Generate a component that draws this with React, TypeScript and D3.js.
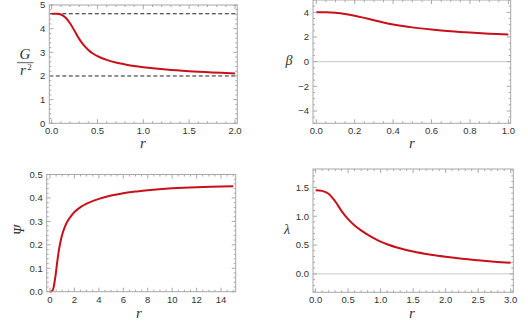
import * as d3 from "d3";

// G/r^2 vs r
const G_R = [0, 0.05, 0.1, 0.15, 0.2, 0.25, 0.3, 0.35, 0.4, 0.45, 0.5, 0.55, 0.6, 0.7, 0.8, 0.9, 1.0, 1.25, 1.5, 1.75, 2.0];
const G_V = [4.63, 4.63, 4.6, 4.47, 4.23, 3.9, 3.57, 3.3, 3.1, 2.95, 2.84, 2.75, 2.68, 2.57, 2.49, 2.42, 2.37, 2.27, 2.2, 2.15, 2.11];
const G_REF = [4.63, 2];

// beta vs r
const B_R = [0, 0.05, 0.1, 0.15, 0.2, 0.25, 0.3, 0.35, 0.4, 0.45, 0.5, 0.6, 0.7, 0.8, 0.9, 1.0];
const B_V = [4.0, 4.0, 3.96, 3.87, 3.73, 3.55, 3.36, 3.18, 3.02, 2.89, 2.78, 2.61, 2.47, 2.36, 2.27, 2.2];

// Psi vs r
const P_R = [0, 0.2, 0.4, 0.6, 0.7, 0.8, 0.9, 1.0, 1.2, 1.4, 1.7, 2, 2.5, 3, 4, 5, 6, 7, 8, 10, 12, 15];
const P_V = [0, 0.005, 0.05, 0.13, 0.168, 0.198, 0.223, 0.244, 0.274, 0.297, 0.321, 0.34, 0.361, 0.376, 0.396, 0.41, 0.42, 0.427, 0.433, 0.441, 0.446, 0.45];

// lambda vs r
const L_R = [0, 0.1, 0.2, 0.3, 0.4, 0.5, 0.6, 0.7, 0.8, 0.9, 1.0, 1.1, 1.25, 1.5, 1.75, 2.0, 2.25, 2.5, 2.75, 3.0];
const L_V = [1.45, 1.44, 1.39, 1.26, 1.09, 0.95, 0.84, 0.755, 0.68, 0.615, 0.56, 0.515, 0.458, 0.388, 0.337, 0.297, 0.263, 0.236, 0.212, 0.192];

const G_XT = [0, 0.5, 1, 1.5, 2], G_YT = [0, 1, 2, 3, 4, 5];
const B_XT = [0, 0.2, 0.4, 0.6, 0.8, 1], B_YT = [-4, -2, 0, 2, 4];
const P_XT = [0, 2, 4, 6, 8, 10, 12, 14], P_YT = [0, 0.1, 0.2, 0.3, 0.4, 0.5];
const L_XT = [0, 0.5, 1, 1.5, 2, 2.5, 3], L_YT = [0, 0.5, 1, 1.5];

const RED = "#c8101a", FRAME = "#a8a8a8", TXT = "#333";
const SERIF = "'Liberation Serif', 'Times New Roman', serif";
const SANS = "'Liberation Sans', Arial, sans-serif";

const PANELS = [
  { box: [49.3, 237.3, 5, 123.3], xd: [-0.026, 2.025], yd: [0, 5], xt: G_XT, yt: G_YT, xm: 0.1, ym: 0.2, xf: ".1f", yf: "d",
    r: G_R, v: G_V, refs: G_REF, zero: false, lab: [143, 148], ylab: "G" },
  { box: [313, 510.7, 0, 123.3], xd: [-0.017, 1.012], yd: [-5, 5], xt: B_XT, yt: B_YT, xm: 0.05, ym: 0.5, xf: ".1f", yf: "d",
    r: B_R, v: B_V, refs: [], zero: true, lab: [412, 148], ylab: "β", ypos: [289, 65] },
  { box: [46.7, 235.7, 174.5, 291.7], xd: [-0.27, 15.2], yd: [0, 0.5], xt: P_XT, yt: P_YT, xm: 0.5, ym: 0.02, xf: "d", yf: ".1f",
    r: P_R, v: P_V, refs: [], zero: false, lab: [139, 318], ylab: "Ψ", ypos: [20, 234], rot: true },
  { box: [313, 513.3, 169, 292.3], xd: [-0.04, 3.04], yd: [-0.32, 1.82], xt: L_XT, yt: L_YT, xm: 0.1, ym: 0.1, xf: ".1f", yf: ".1f",
    r: L_R, v: L_V, refs: [], zero: true, lab: [412, 318], ylab: "λ", ypos: [287, 234] },
];

const fmt = (f: string, t: number) => (t < 0 ? "\u2212" : "") + d3.format(f)(Math.abs(t));

function minors(dom: number[], step: number, majors: number[]) {
  const out: number[] = [];
  const start = Math.ceil(dom[0] / step - 1e-9);
  for (let i = start; i * step <= dom[1] + 1e-9; i++) {
    const t = +(i * step).toFixed(6);
    if (!majors.some(m => Math.abs(m - t) < 1e-9)) out.push(t);
  }
  return out;
}

function Panel({ p }: { p: any }) {
  const [l, r, t, b] = p.box;
  const sx = d3.scaleLinear().domain(p.xd).range([l, r]);
  const sy = d3.scaleLinear().domain(p.yd).range([b, t]);
  const line = d3.line<number>().x((_, i) => sx(p.r[i])).y(d => sy(d)).curve(d3.curveCatmullRom.alpha(0.5));
  const xMin = minors(p.xd, p.xm, p.xt), yMin = minors(p.yd, p.ym, p.yt);
  const M = 4, m = 2;
  return (
    <g>
      {p.zero && <line x1={l} x2={r} y1={sy(0)} y2={sy(0)} stroke="#c8c8c8" strokeWidth={1} />}
      {p.refs.map((v: number, i: number) => <line key={i} x1={l} x2={r} y1={sy(v)} y2={sy(v)} stroke="#222" strokeWidth={1} strokeDasharray="4 2.5" />)}
      <path d={line(p.v) || ""} fill="none" stroke={RED} strokeWidth={2} />
      <rect x={l} y={t} width={r - l} height={b - t} fill="none" stroke={FRAME} strokeWidth={1} />
      {p.xt.map((v: number, i: number) => (
        <g key={"x" + i}>
          <line x1={sx(v)} x2={sx(v)} y1={b} y2={b - M} stroke={FRAME} />
          <line x1={sx(v)} x2={sx(v)} y1={t} y2={t + M} stroke={FRAME} />
          <text x={sx(v)} y={b + 11} textAnchor="middle" fontSize={9.5} fontFamily={SANS} fill={TXT}>{fmt(p.xf, v)}</text>
        </g>
      ))}
      {xMin.map((v, i) => (
        <g key={"xm" + i}>
          <line x1={sx(v)} x2={sx(v)} y1={b} y2={b - m} stroke={FRAME} />
          <line x1={sx(v)} x2={sx(v)} y1={t} y2={t + m} stroke={FRAME} />
        </g>
      ))}
      {p.yt.map((v: number, i: number) => (
        <g key={"y" + i}>
          <line x1={l} x2={l + M} y1={sy(v)} y2={sy(v)} stroke={FRAME} />
          <line x1={r} x2={r - M} y1={sy(v)} y2={sy(v)} stroke={FRAME} />
          <text x={l - 4} y={sy(v) + 3.4} textAnchor="end" fontSize={9.5} fontFamily={SANS} fill={TXT}>{fmt(p.yf, v)}</text>
        </g>
      ))}
      {yMin.map((v, i) => (
        <g key={"ym" + i}>
          <line x1={l} x2={l + m} y1={sy(v)} y2={sy(v)} stroke={FRAME} />
          <line x1={r} x2={r - m} y1={sy(v)} y2={sy(v)} stroke={FRAME} />
        </g>
      ))}
      <text x={p.lab[0]} y={p.lab[1]} textAnchor="middle" fontSize={15} fontStyle="italic" fontFamily={SERIF} fill={TXT}>r</text>
      {p.ylab === "G" ? (
        <g fontFamily={SERIF} fontStyle="italic" fill={TXT}>
          <text x={25} y={58.5} textAnchor="middle" fontSize={15}>G</text>
          <line x1={17} x2={33.5} y1={62.7} y2={62.7} stroke={TXT} strokeWidth={0.8} />
          <text x={23} y={75} textAnchor="middle" fontSize={15}>r</text>
          <text x={29.5} y={69.5} textAnchor="middle" fontSize={9} fontStyle="normal">2</text>
        </g>
      ) : (
        <text x={p.ypos[0]} y={p.ypos[1]} textAnchor="middle" fontSize={14} fontStyle="italic" fontFamily={SERIF} fill={TXT}
          transform={p.rot ? `rotate(-90 ${p.ypos[0]} ${p.ypos[1] - 4})` : undefined}>{p.ylab}</text>
      )}
    </g>
  );
}

export default function App() {
  return (
    <svg width={528} height={327} style={{ position: "absolute", left: 0, top: 0, background: "#fff" }}>
      {PANELS.map((p, i) => <Panel key={i} p={p} />)}
    </svg>
  );
}
